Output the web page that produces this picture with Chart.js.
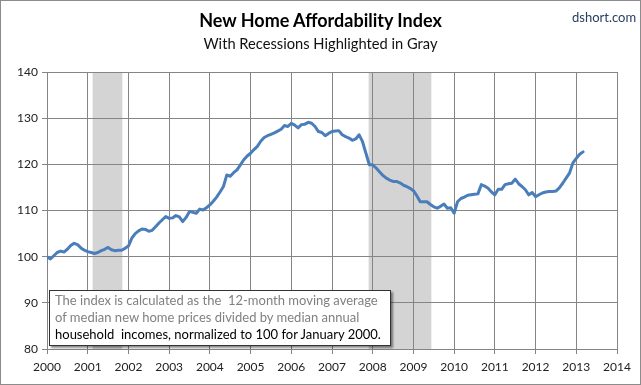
<!DOCTYPE html>
<html><head><meta charset="utf-8">
<script src="https://cdn.jsdelivr.net/npm/chart.js@4/dist/chart.umd.min.js"></script>
<style>
html,body{margin:0;padding:0;background:#fff;}
#wrap{position:relative;width:641px;height:385px;overflow:hidden;font-family:Lato,'Open Sans',sans-serif;}
canvas{position:absolute;left:0;top:0;}
.t{position:absolute;white-space:nowrap;line-height:1;}
#title{left:0;width:641px;text-align:center;top:11px;font-weight:bold;font-size:18px;color:#000;}
#sub{left:0;width:641px;text-align:center;top:36px;font-size:14.7px;color:#111;}
#src{left:572px;top:11px;font-size:13px;color:#243f60;}
#note{position:absolute;left:49px;top:290px;width:342px;height:56px;background:#fff;border:1px solid #333;box-shadow:2px 2px 2px rgba(0,0,0,0.45);font-size:13px;line-height:17px;padding:1px 0 0 5px;box-sizing:border-box;white-space:nowrap;}
#note .g{color:#808080;}
#note .b{color:#000;}
</style></head>
<body>
<div id="wrap">
<canvas id="c" width="641" height="385"></canvas>
<div class="t" id="title">New Home Affordability Index</div>
<div class="t" id="sub">With Recessions Highlighted in Gray</div>
<div class="t" id="src">dshort.com</div>
<div id="note"><div class="g">The index is calculated as the&nbsp; 12-month moving average</div><div class="g">of median new home prices divided by median annual</div><div class="b">household&nbsp; incomes, normalized to 100 for January 2000.</div></div>
</div>
<script>
// Monthly index values, Jan 2000 .. Mar 2013
const startYear = 2000;
const affordabilityIndex = [
  100.0, 99.5, 100.2, 100.9, 101.2, 101.0, 101.6, 102.4, 102.9, 102.6, 101.9, 101.4,
  101.1, 100.9, 100.7, 100.9, 101.3, 101.6, 102.0, 101.5, 101.3, 101.4, 101.4, 101.8,
  102.3, 104.0, 105.0, 105.6, 106.0, 105.9, 105.5, 105.7, 106.5, 107.3, 108.0, 108.7,
  108.3, 108.4, 108.9, 108.6, 107.6, 108.5, 109.8, 109.6, 109.4, 110.3, 110.1, 110.6,
  111.2, 112.0, 112.9, 114.0, 115.2, 117.7, 117.4, 118.2, 118.8, 119.9, 121.0, 121.8,
  122.4, 123.2, 123.9, 125.0, 125.8, 126.2, 126.5, 126.8, 127.2, 127.6, 128.4, 128.2,
  128.9, 128.5, 127.9, 128.6, 128.7, 129.1, 128.9, 128.2, 127.1, 126.9, 126.2, 126.7,
  127.1, 127.2, 127.3, 126.4, 126.0, 125.7, 125.2, 125.5, 126.4, 124.9, 122.4, 119.9,
  119.9, 119.2, 118.4, 117.6, 117.0, 116.6, 116.3, 116.3, 116.0, 115.5, 115.2, 114.8,
  114.3, 113.2, 111.9, 111.9, 111.9, 111.3, 110.8, 110.5, 110.9, 111.4, 110.5, 110.6,
  109.4, 111.9, 112.6, 112.9, 113.3, 113.4, 113.5, 113.6, 115.6, 115.3, 114.8, 114.0,
  113.4, 114.6, 114.6, 115.6, 115.8, 115.9, 116.8, 115.8, 115.2, 114.5, 113.4, 113.9,
  113.0, 113.4, 113.8, 114.0, 114.1, 114.1, 114.2, 114.9, 115.9, 117.0, 118.1, 120.3,
  121.3, 122.2, 122.7
];
const yearTicks = [2000,2001,2002,2003,2004,2005,2006,2007,2008,2009,2010,2011,2012,2013,2014];
const yTicks = [80,90,100,110,120,130,140];
const recessionStart = [2001.12, 2007.90];
const recessionEnd = [2001.85, 2009.44];

const points = affordabilityIndex.map((v,i)=>({x: startYear + i/12, y: v}));

const bands = {
  id:'bands',
  beforeDraw(chart){
    const {ctx, chartArea:a, scales:{x}} = chart;
    ctx.save();
    ctx.fillStyle = '#d4d4d4';
    recessionStart.forEach((s,i)=>{
      const x0 = x.getPixelForValue(s), x1 = x.getPixelForValue(recessionEnd[i]);
      ctx.fillRect(x0, a.top, x1-x0, a.bottom-a.top);
    });
    ctx.restore();
  },
  afterDraw(chart){
    const ctx = chart.ctx;
    ctx.save();
    ctx.strokeStyle = '#8c8c8c';
    ctx.lineWidth = 1;
    ctx.strokeRect(0.5,0.5,640,384);
    ctx.restore();
  }
};

const gridCol = '#858585';
const tickFont = {family:'Lato', size:12};
new Chart(document.getElementById('c'), {
  type:'line',
  data:{datasets:[{data:points, borderColor:'#4a7ebb', borderWidth:3, pointRadius:0, tension:0, fill:false, borderJoinStyle:'round', borderCapStyle:'round'}]},
  options:{
    responsive:false, animation:false, devicePixelRatio:1,
    layout:{padding:{left:0,right:24,top:72,bottom:0}},
    plugins:{legend:{display:false}, tooltip:{enabled:false}, title:{display:false}},
    scales:{
      x:{type:'linear', min:2000, max:2014,
        afterFit(s){ s.height = 36; },
        afterBuildTicks(s){ s.ticks = yearTicks.map(v=>({value:v})); },
        ticks:{callback:v=>String(v), color:'#222', font:tickFont, padding:6, maxRotation:0, autoSkip:false},
        grid:{color:gridCol, tickLength:5, lineWidth:1},
        border:{color:gridCol}
      },
      y:{min:80, max:140,
        afterFit(s){ s.width = 47; },
        afterBuildTicks(s){ s.ticks = yTicks.map(v=>({value:v})); },
        ticks:{color:'#222', font:tickFont, padding:4},
        grid:{color:gridCol, tickLength:5, lineWidth:1},
        border:{color:gridCol}
      }
    }
  },
  plugins:[bands]
});
</script>
</body></html>
